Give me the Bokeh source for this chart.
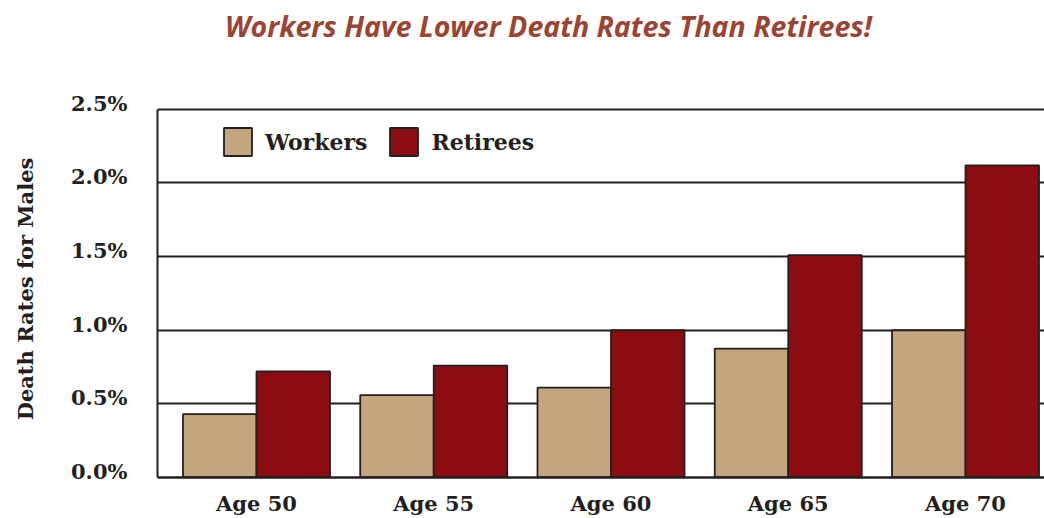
import numpy as np
from bokeh.plotting import figure
from bokeh.layouts import column
from bokeh.models import (ColumnDataSource, FixedTicker, Legend, LegendItem, Range1d,
                          LinearAxis, Grid, PrintfTickFormatter)
from bokeh.core.properties import value
from bokeh.embed import file_html
from bokeh.resources import INLINE

# ---- data ----
ages = ["Age 50", "Age 55", "Age 60", "Age 65", "Age 70"]
workers = [0.43, 0.56, 0.61, 0.875, 1.0]
retirees = [0.72, 0.76, 1.0, 1.51, 2.12]
y_ticks = [0.0, 0.5, 1.0, 1.5, 2.0, 2.5]
title_text = "Workers Have Lower Death Rates Than Retirees!"
y_title = "Death Rates for Males"

WORK_C = "#C4A67E"
RET_C = "#8B0D12"
INK = "#231F20"
SERIF = "DejaVu Serif"
W = 1044
TH = 50
LEFT = 157

# ---- title strip (its frame is aligned with the chart frame) ----
t = figure(width=W, height=TH, output_backend="svg", toolbar_location=None,
           x_range=(LEFT, W), y_range=(0, TH), x_axis_location=None,
           y_axis_location=None, min_border=0)
t.outline_line_color = None
t.grid.visible = False
t.text(x=[548], y=[TH / 2], text=[title_text], text_align="center",
       text_baseline="middle", text_font=value("Open Sans"),
       text_font_style="bold italic", text_font_size="28.5px",
       text_color="#9B4433")

# ---- main chart ----
idx = np.arange(len(ages))
bw = 0.4147
src = ColumnDataSource(dict(
    xw=idx - bw / 2, xr=idx + bw / 2, w=workers, r=retirees))

Y_END = 2.56
p = figure(width=W, height=518 - TH, output_backend="svg", toolbar_location=None,
           x_range=(-0.5585, 4.4457), y_range=(0, Y_END), y_axis_location=None,
           min_border_left=LEFT, min_border_right=0, min_border_top=50,
           min_border_bottom=40)
p.outline_line_color = None
p.background_fill_color = "white"

rw = p.vbar(x="xw", top="w", width=bw, source=src, fill_color=WORK_C,
            line_color=INK, line_width=1.8)
rr = p.vbar(x="xr", top="r", width=bw, source=src, fill_color=RET_C,
            line_color=INK, line_width=1.8)

p.xgrid.visible = False
p.add_layout(Grid(dimension=1, ticker=FixedTicker(ticks=y_ticks),
                  grid_line_color=INK, grid_line_width=2))

# x axis
p.xaxis.ticker = FixedTicker(ticks=list(idx))
p.xaxis.major_label_overrides = {int(i): a for i, a in zip(idx, ages)}
p.xaxis.major_label_text_font = SERIF
p.xaxis.major_label_text_font_style = "bold"
p.xaxis.major_label_text_font_size = "21px"
p.xaxis.major_label_text_line_height = 0.8
p.xaxis.major_label_text_color = INK
p.xaxis.major_label_standoff = 13
p.xaxis.major_tick_line_color = None
p.xaxis.minor_tick_line_color = None
p.xaxis.major_tick_in = 0
p.xaxis.major_tick_out = 0
p.xaxis.axis_line_color = INK
p.xaxis.axis_line_width = 2.5

# y axis line (0 .. 2.5 only)
yline = LinearAxis(ticker=FixedTicker(ticks=[]), bounds=(0, 2.5))
yline.major_tick_in = 0
yline.major_tick_out = 0
yline.minor_tick_in = 0
yline.minor_tick_out = 0
yline.axis_line_color = INK
yline.axis_line_width = 2
p.add_layout(yline, "left")

# y tick labels sit slightly above their gridlines (shifted label range)
shift = 6.0 / 148.0
p.extra_y_ranges = {"lab": Range1d(-shift, Y_END - shift)}
yax = LinearAxis(y_range_name="lab", ticker=FixedTicker(ticks=y_ticks),
                 formatter=PrintfTickFormatter(format="%.1f%%"),
                 axis_label=y_title)
yax.major_label_text_font = SERIF
yax.major_label_text_font_style = "bold"
yax.major_label_text_font_size = "21px"
yax.major_label_text_color = INK
yax.major_label_standoff = 30
yax.major_tick_line_color = None
yax.minor_tick_line_color = None
yax.major_tick_in = 0
yax.major_tick_out = 0
yax.axis_line_color = None
yax.axis_label_text_font = SERIF
yax.axis_label_text_font_style = "bold"
yax.axis_label_text_font_size = "21px"
yax.axis_label_text_color = INK
yax.axis_label_standoff = 30
p.add_layout(yax, "left")

legend = Legend(items=[LegendItem(label="Workers", renderers=[rw]),
                       LegendItem(label="Retirees", renderers=[rr])],
                orientation="horizontal", location=(63, 318),
                glyph_width=35, glyph_height=35, label_standoff=10,
                spacing=19, padding=0, margin=0,
                border_line_color=None, background_fill_alpha=0,
                label_text_font=SERIF, label_text_font_style="bold",
                label_text_font_size="22px", label_text_color=INK,
                label_height=35)
p.add_layout(legend)

layout = column(t, p, spacing=0)
open("out.html", "w").write(file_html(layout, INLINE))
